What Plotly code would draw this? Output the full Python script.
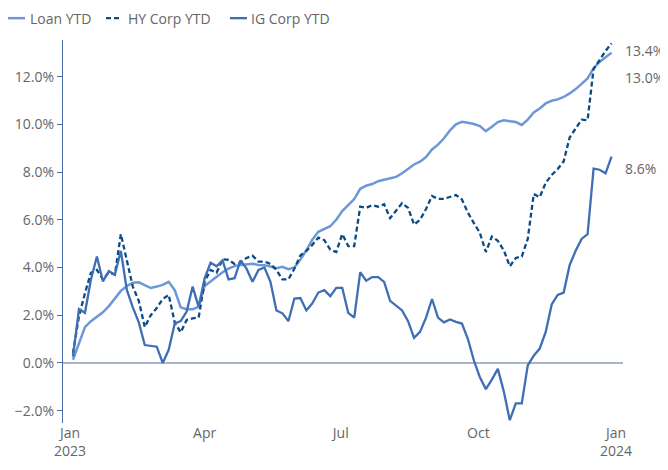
import pandas as pd
import plotly.graph_objects as go

# dates: every 4 days from 2023-01-03 to 2023-12-29
dates = pd.date_range("2023-01-03", periods=91, freq="4D")

loan_ytd = [0.13, 0.85, 1.50, 1.75, 1.92, 2.12, 2.38, 2.72, 3.02, 3.22,
            3.36, 3.38, 3.25, 3.14, 3.20, 3.27, 3.40, 3.05, 2.33, 2.25,
            2.25, 2.35, 3.22, 3.42, 3.62, 3.80, 3.95, 4.06, 4.11, 4.15,
            4.16, 4.11, 4.10, 4.04, 3.97, 4.03, 3.93, 4.00, 4.33, 4.72,
            5.17, 5.50, 5.62, 5.73, 6.00, 6.37, 6.62, 6.87, 7.30, 7.43,
            7.50, 7.62, 7.68, 7.74, 7.80, 7.95, 8.13, 8.32, 8.44, 8.63,
            8.95, 9.15, 9.42, 9.75, 10.00, 10.11, 10.07, 10.02, 9.93, 9.72,
            9.90, 10.10, 10.17, 10.12, 10.10, 9.98, 10.20, 10.50, 10.67, 10.88,
            10.99, 11.05, 11.15, 11.30, 11.48, 11.70, 11.93, 12.36, 12.62, 12.82,
            13.01]

hy_corp_ytd = [0.41, 1.95, 2.92, 3.78, 3.90, 3.50, 3.80, 3.70, 5.40, 4.30,
               3.20, 2.60, 1.50, 2.00, 2.30, 2.68, 2.85, 1.70, 1.28, 1.80,
               1.87, 1.90, 3.40, 3.90, 3.78, 4.35, 4.32, 4.15, 4.20, 4.40,
               4.50, 4.25, 4.25, 4.15, 3.90, 3.50, 3.50, 3.95, 4.50, 4.70,
               4.95, 5.25, 5.15, 4.75, 4.65, 5.40, 4.90, 4.90, 6.55, 6.50,
               6.62, 6.55, 6.65, 6.07, 6.40, 6.70, 6.50, 5.80, 6.00, 6.45,
               7.00, 6.88, 6.88, 6.95, 7.04, 6.85, 6.30, 5.86, 5.45, 4.65,
               5.30, 5.12, 4.72, 4.05, 4.40, 4.46, 5.20, 7.08, 6.95, 7.55,
               7.88, 8.13, 8.45, 9.45, 9.80, 10.20, 10.18, 12.33, 12.70, 13.08,
               13.40]

ig_corp_ytd = [0.26, 2.25, 2.10, 3.50, 4.46, 3.42, 3.85, 3.70, 4.70, 3.06,
               2.33, 1.70, 0.75, 0.70, 0.68, 0.00, 0.55, 1.65, 1.75, 2.15,
               3.20, 2.35, 3.55, 4.20, 4.05, 4.30, 3.50, 3.55, 4.30, 3.95,
               3.40, 3.90, 4.00, 3.40, 2.20, 2.08, 1.75, 2.70, 2.72, 2.20,
               2.50, 2.95, 3.05, 2.80, 3.15, 3.15, 2.10, 1.90, 3.80, 3.45,
               3.60, 3.60, 3.40, 2.60, 2.40, 2.20, 1.75, 1.05, 1.30, 1.90,
               2.68, 1.90, 1.70, 1.82, 1.72, 1.65, 1.00, 0.10, -0.60, -1.10,
               -0.70, -0.25, -1.20, -2.40, -1.70, -1.70, -0.10, 0.30, 0.60, 1.30,
               2.45, 2.85, 2.95, 4.10, 4.70, 5.20, 5.40, 8.15, 8.10, 7.95,
               8.65]

series_names = ["Loan YTD", "HY Corp YTD", "IG Corp YTD"]
y_ticks = [-2, 0, 2, 4, 6, 8, 10, 12]
x_tick_dates = ["2023-01-01", "2023-04-01", "2023-07-01", "2023-10-01", "2024-01-01"]
x_tick_labels = ["Jan<br>2023", "Apr", "Jul", "Oct", "Jan<br>2024"]
end_labels = ["13.4%", "13.0%", "8.6%"]

LOAN_C = "#6E97D8"
HY_C = "#0C4A86"
IG_C = "#3F6EB5"
TXT = "#666666"
FONT = "Open Sans, sans-serif"

styles = [dict(color=LOAN_C, width=2.5),
          dict(color=HY_C, width=2.3, dash="5px,3px"),
          dict(color=IG_C, width=2.3)]

fig = go.Figure()
for name, vals, st in zip(series_names, [loan_ytd, hy_corp_ytd, ig_corp_ytd], styles):
    fig.add_trace(go.Scatter(x=dates, y=vals, name=name, mode="lines", line=st,
                             showlegend=False))

# zero line
fig.add_shape(type="line", xref="paper", x0=0, x1=1, yref="y", y0=0, y1=0,
              line=dict(color="#8C9DB8", width=1.5), layer="below")

# legend drawn manually (short samples like the original)
leg_y = 1.057
leg_items = [(-0.0982, -0.0679, -0.0625), (0.0768, 0.1054, 0.1125), (0.2982, 0.3286, 0.3320)]
for name, st, (xa, xb, xt) in zip(series_names, styles, leg_items):
    fig.add_shape(type="line", xref="paper", yref="paper", x0=xa, x1=xb, y0=leg_y, y1=leg_y,
                  line=st)
    fig.add_annotation(xref="paper", yref="paper", x=xt, y=leg_y, xanchor="left",
                       yanchor="middle", text=name, showarrow=False,
                       font=dict(size=14, color=TXT, family=FONT))

# end labels
for txt, yv in zip(end_labels, [13.1, 11.95, 8.15]):
    fig.add_annotation(x=1.0, xref="paper", xanchor="left", y=yv, yanchor="middle",
                       text=txt, showarrow=False, font=dict(size=14, color=TXT))

fig.update_layout(
    width=660, height=462,
    margin=dict(l=55, r=45, t=32, b=47, autoexpand=False),
    plot_bgcolor="white", paper_bgcolor="white",
    font=dict(family=FONT, size=13, color=TXT),
    showlegend=False,
    xaxis=dict(type="date", range=["2022-12-27 08:00", "2024-01-05 16:00"],
               tickvals=x_tick_dates, ticktext=x_tick_labels,
               showgrid=False, zeroline=False, showline=False, ticks="",
               tickfont=dict(size=14, color=TXT)),
    yaxis=dict(range=[-2.52, 13.54], tickvals=y_ticks,
               ticktext=[f"{v:.1f}%".replace("-", "\u2212") for v in y_ticks],
               showgrid=False, zeroline=False, showline=True, linecolor="#4A6AA5",
               linewidth=1.2, ticks="outside", ticklen=5, tickcolor="#4A6AA5",
               tickfont=dict(size=14, color=TXT)),
)

fig.write_html("out.html")
